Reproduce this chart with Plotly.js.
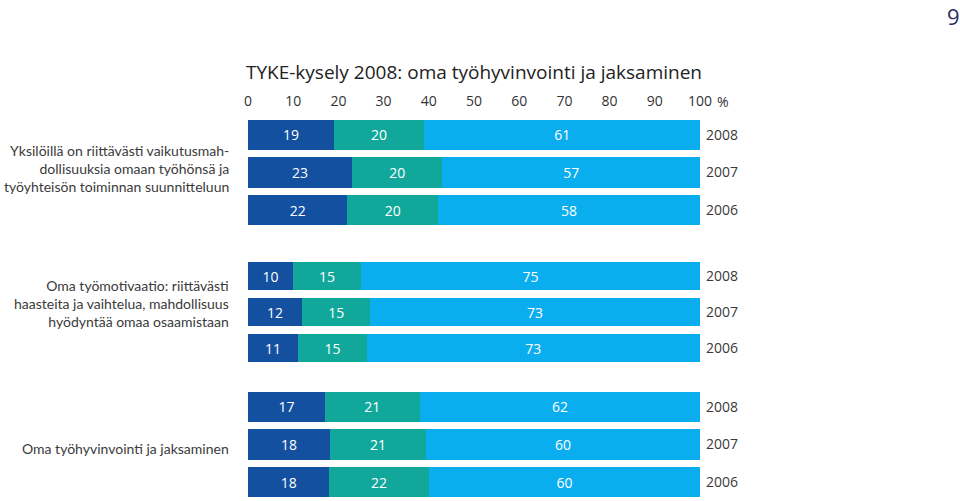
<!DOCTYPE html>
<html><head><meta charset="utf-8">
<script src="https://cdn.plot.ly/plotly-3.0.1.min.js"></script>
<style>html,body{margin:0;padding:0;background:#fff;}#chart{width:960px;height:501px;}</style>
</head><body><div id="chart"></div>
<script>
const years = ['2008', '2007', '2006'];
const groupLabels = [
  'Yksilöillä on riittävästi vaikutusmah-<br>dollisuuksia omaan työhönsä ja<br>työyhteisön toiminnan suunnitteluun',
  'Oma työmotivaatio: riittävästi<br>haasteita ja vaihtelua, mahdollisuus<br>hyödyntää omaa osaamistaan',
  'Oma työhyvinvointi ja jaksaminen'
];
const darkVals  = [[19, 23, 22], [10, 12, 11], [17, 18, 18]];
const tealVals  = [[20, 20, 20], [15, 15, 15], [21, 21, 22]];
const lightVals = [[61, 57, 58], [75, 73, 73], [62, 60, 60]];
const xTicks = [0, 10, 20, 30, 40, 50, 60, 70, 80, 90, 100];
const title = 'TYKE-kysely 2008: oma työhyvinvointi ja jaksaminen';
const pageNumber = '9';

const colors = ['#13509f', '#11a89b', '#0aaeef'];
const series = [darkVals, tealVals, lightVals];
const FONT = 'Open Sans, sans-serif';
const LFONT = 'Lato, sans-serif';
const H = 501;

// pixel domains (top, bottom) for each group
const domainsPx = [[116, 229], [258, 366], [388, 501]];
const labelShift = [4, 9, -4];

const traces = [];
for (let g = 0; g < 3; g++) {
  for (let s = 0; s < 3; s++) {
    traces.push({
      type: 'bar', orientation: 'h',
      y: years, x: series[s][g],
      xaxis: g === 0 ? 'x' : 'x' + (g + 1),
      yaxis: g === 0 ? 'y' : 'y' + (g + 1),
      marker: {color: colors[s], line: {width: 0}},
      width: 0.8,
      text: series[s][g].map(String),
      textposition: 'inside', insidetextanchor: 'middle',
      textfont: {color: '#ffffff', size: 14, family: FONT},
      hoverinfo: 'skip', showlegend: false
    });
  }
}

const layout = {
  width: 960, height: 501,
  margin: {l: 248, r: 260, t: 0, b: 0},
  paper_bgcolor: '#ffffff', plot_bgcolor: '#ffffff',
  barmode: 'stack', barnorm: 'percent', bargap: 0.2,
  font: {family: FONT, color: '#333333', size: 14},
  title: {text: title, font: {size: 19, color: '#222222', family: FONT},
          x: 0.5, xref: 'paper', xanchor: 'center', y: 1 - 72 / H, yanchor: 'middle', yref: 'container'},
  annotations: []
};

for (let g = 0; g < 3; g++) {
  const sfx = g === 0 ? '' : String(g + 1);
  const [top, bot] = domainsPx[g];
  layout['xaxis' + sfx] = {
    range: [0, 100], fixedrange: true,
    anchor: 'y' + sfx, side: 'top',
    showgrid: false, zeroline: false, showline: false, ticks: '',
    showticklabels: g === 0, ticklabelstandoff: 6,
    tickvals: xTicks, ticktext: xTicks.map(String),
    tickfont: {size: 14, color: '#333333', family: FONT}
  };
  if (g > 0) layout['xaxis' + sfx].matches = 'x';
  layout['yaxis' + sfx] = {
    type: 'category', categoryorder: 'array', categoryarray: years,
    autorange: 'reversed',
    domain: [1 - bot / H, 1 - top / H],
    anchor: 'x' + sfx, side: 'right', ticklabelstandoff: 5,
    showgrid: false, zeroline: false, showline: false, ticks: '',
    tickfont: {size: 14, color: '#3a3a3a', family: FONT}
  };
  layout.annotations.push({
    text: groupLabels[g], xref: 'paper', x: 0, xanchor: 'right', xshift: -17,
    yref: 'y' + sfx + ' domain', y: 0.5, yanchor: 'middle', yshift: labelShift[g],
    align: 'right', showarrow: false,
    font: {size: 14, color: '#3a3a3a', family: LFONT}
  });
}

layout.annotations.push({
  text: '%', xref: 'x', x: 100, xanchor: 'left', xshift: 15,
  yref: 'paper', y: 1 - 101 / H, yanchor: 'middle',
  showarrow: false, font: {size: 14, color: '#333333', family: FONT}
});
layout.annotations.push({
  text: pageNumber, xref: 'paper', x: 1, xanchor: 'right', xshift: 262,
  yref: 'paper', y: 1 - 16 / H, yanchor: 'middle',
  showarrow: false, font: {size: 22, color: '#2a2d5c', family: FONT}
});

Plotly.newPlot('chart', traces, layout, {displayModeBar: false, staticPlot: true});
</script></body></html>
